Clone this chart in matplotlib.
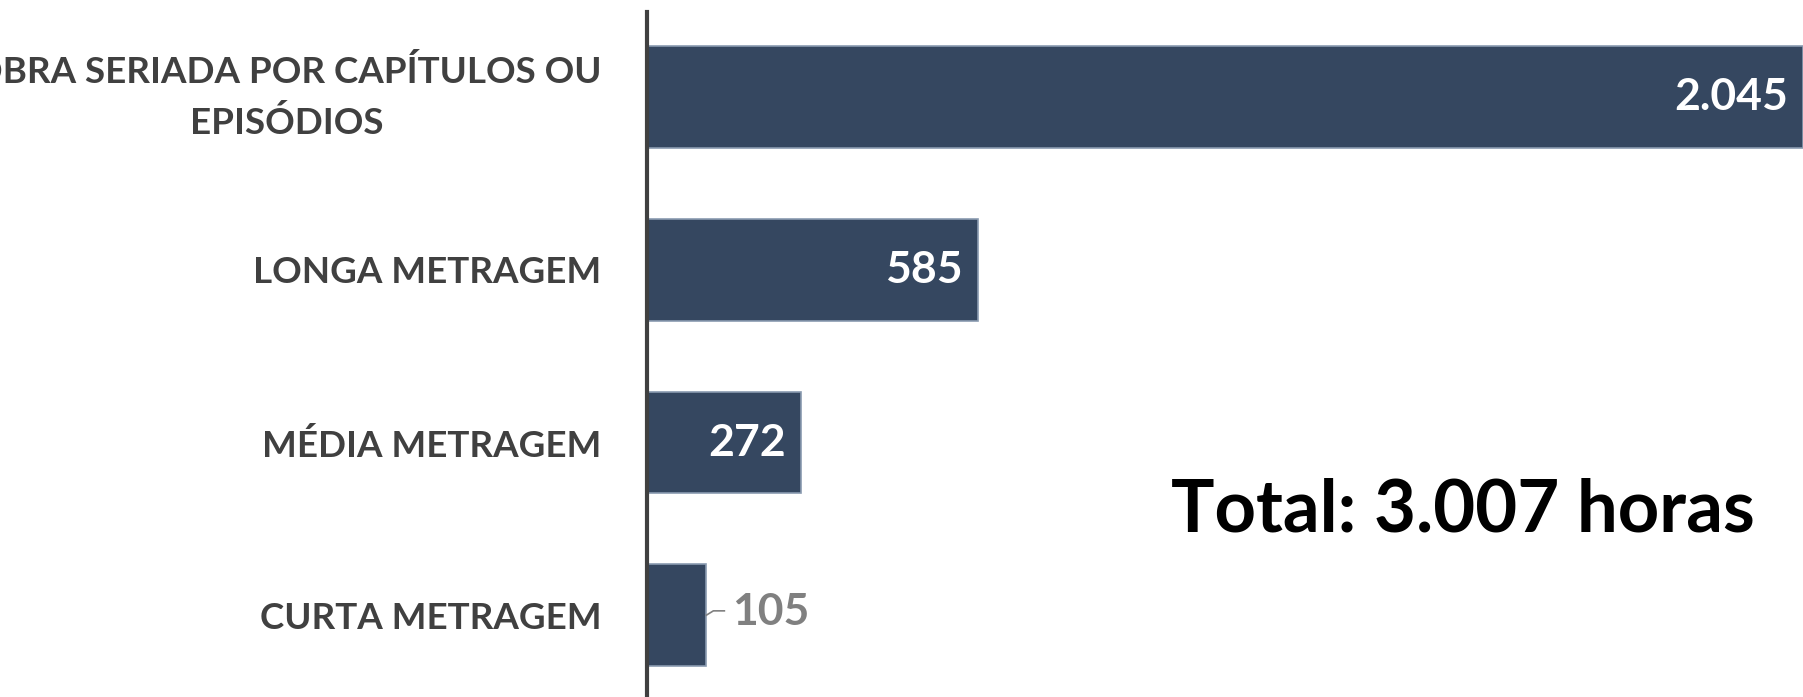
import matplotlib
matplotlib.use("Agg")
import matplotlib.pyplot as plt

# data
categories = ["OBRA SERIADA POR CAPÍTULOS OU\nEPISÓDIOS", "LONGA METRAGEM",
              "MÉDIA METRAGEM", "CURTA METRAGEM"]
hours = [2045, 585, 272, 105]
value_labels = ["2.045", "585", "272", "105"]
total_label = "Total: 3.007 horas"

BAR_COLOR = "#354760"
EDGE_COLOR = "#8a9bb0"
LABEL_COLOR = "#404040"
FONT = ["Lato", "DejaVu Sans"]

plt.rcParams["font.family"] = FONT

fig = plt.figure(figsize=(18.03, 6.97), dpi=100)
ax = fig.add_axes([647 / 1803, 0, 1 - 647 / 1803, 1 - 12 / 697])

ypos = list(range(len(hours)))
ax.barh(ypos, hours, height=0.59, color=BAR_COLOR, edgecolor=EDGE_COLOR,
        linewidth=1.2, zorder=2)

ax.set_xlim(0, 2045)
ax.set_ylim(3.474, -0.494)

ax.set_yticks(ypos)
ax.set_yticklabels(categories, fontsize=26.5, fontweight="bold",
                   color=LABEL_COLOR, linespacing=1.6)
for lab in ax.get_yticklabels():
    lab.set_multialignment("center")
    if "\n" in lab.get_text():
        lab.set_verticalalignment("center")
ax.tick_params(axis="y", length=0, pad=33)
ax.set_xticks([])

for s in ["top", "right", "bottom"]:
    ax.spines[s].set_visible(False)
ax.spines["left"].set_color("#404040")
ax.spines["left"].set_linewidth(3)
ax.spines["left"].set_zorder(3)

# px -> data units on x
px = 2045 / (1803 - 647)
for y, v, txt in zip(ypos, hours, value_labels):
    if v > 200:
        ax.text(v - 15 * px, y, txt, ha="right", va="center", fontsize=32,
                fontweight="bold", color="white", zorder=4)
    else:
        # small bar: label outside with leader line
        ax.plot([v, v + 7 * px, v + 18 * px], [y, y - 0.025, y - 0.025],
                color="#808080", lw=1.2, zorder=4)
        ax.text(v + 26 * px, y - 0.02, txt, ha="left", va="center",
                fontsize=32, fontweight="bold", color="#808080", zorder=4)

tot = fig.text(1171 / 1803, 1 - 511 / 697, total_label, ha="left",
               va="center", fontsize=62, fontweight="bold", color="black")
# shrink the total so it spans the same width as in the reference
fig.canvas.draw()
w = tot.get_window_extent().width
tot.set_fontsize(62 * 584 / w)

fig.savefig("out.png", dpi=100)
